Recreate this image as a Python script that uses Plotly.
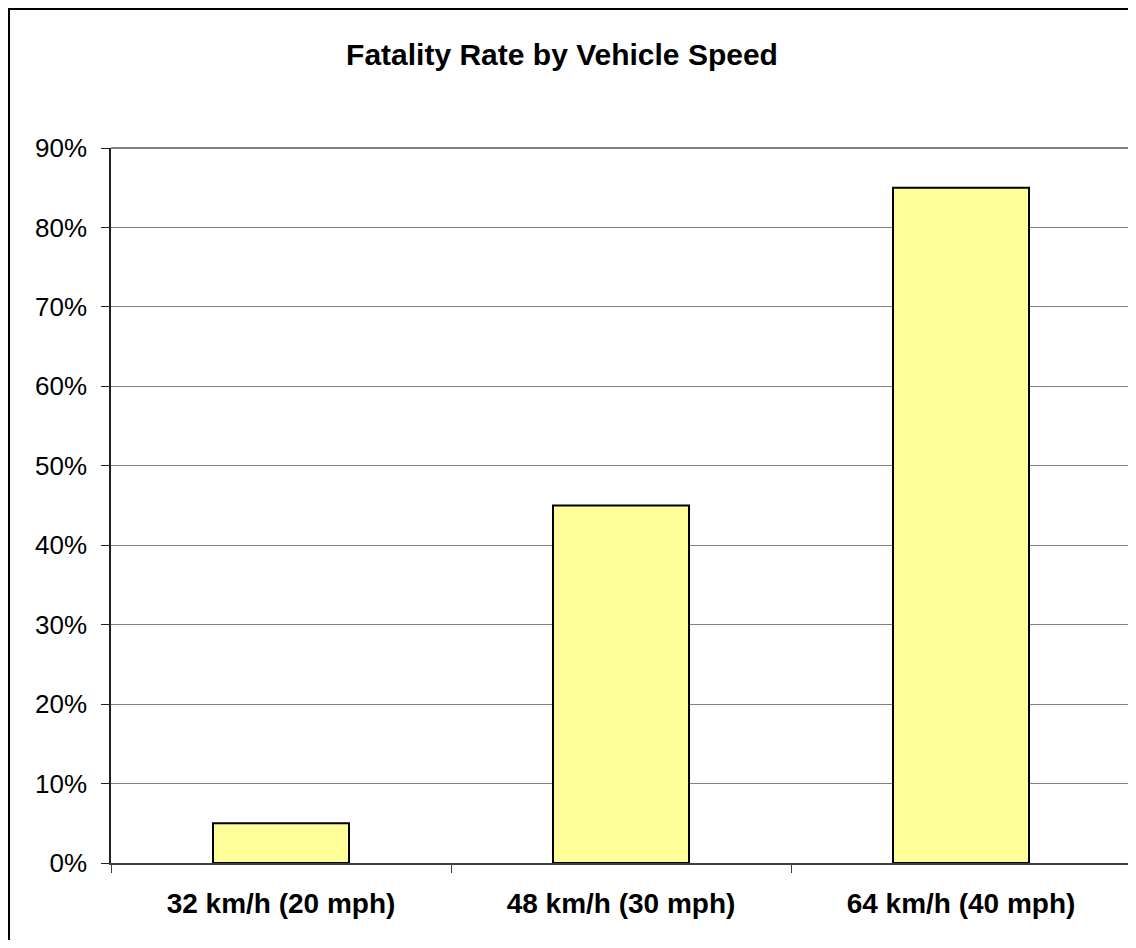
import plotly.graph_objects as go

categories = ["32 km/h (20 mph)", "48 km/h (30 mph)", "64 km/h (40 mph)"]
fatality_rate = [5, 45, 85]
y_ticks = [0, 10, 20, 30, 40, 50, 60, 70, 80, 90]
y_tick_labels = [f"{v}%" for v in y_ticks]

# page has an 8px body margin, so the figure origin sits at (8, 8)
W, H = 1128, 932
L, R, T, B = 103, 5, 140, 77
pw, ph = W - L - R, H - T - B

def px_x(x):
    return (x - L) / pw

def px_y(y):
    return (H - B - y) / ph

fig = go.Figure(
    go.Bar(
        x=categories,
        y=fatality_rate,
        width=0.4,
        marker=dict(color="#FFFF99", line=dict(color="#000000", width=2)),
        hoverinfo="x+y",
    )
)

fig.update_layout(
    width=W,
    height=H,
    margin=dict(l=L, r=R, t=T, b=B, pad=0),
    paper_bgcolor="white",
    plot_bgcolor="white",
    showlegend=False,
    title=dict(
        text="<b>Fatality Rate by Vehicle Speed</b>",
        x=(562 - 8) / W,
        xanchor="center",
        y=1 - 46 / H,
        yanchor="middle",
        font=dict(family="Liberation Sans, Arial", size=30, color="black"),
    ),
    font=dict(family="Liberation Sans, Arial", color="black"),
    bargap=0.6,
)

fig.update_xaxes(
    type="category",
    tickson="boundaries",
    ticks="outside",
    ticklen=8,
    tickcolor="#404040",
    showline=True,
    linecolor="#404040",
    linewidth=2,
    showgrid=False,
    tickfont=dict(family="Liberation Sans, Arial", size=28, color="black"),
    tickprefix="<b>",
    ticksuffix="</b>",
    ticklabelstandoff=14,
)

fig.update_yaxes(
    range=[0, 90],
    tickvals=y_ticks,
    ticktext=y_tick_labels,
    ticks="outside",
    ticklen=8,
    tickcolor="#202020",
    showline=True,
    linecolor="#202020",
    linewidth=1.5,
    showgrid=True,
    gridcolor="#808080",
    gridwidth=1,
    zeroline=False,
    tickfont=dict(family="Liberation Sans, Arial", size=26, color="black"),
    ticklabelstandoff=9,
)

# gray plot-area border (top and right)
fig.add_shape(type="line", xref="paper", yref="paper", x0=0, x1=1, y0=1, y1=1,
              line=dict(color="#808080", width=2))
fig.add_shape(type="line", xref="paper", yref="paper", x0=1, x1=1, y0=0, y1=1,
              line=dict(color="#808080", width=2))

# outer chart border
fig.add_shape(type="rect", xref="paper", yref="paper",
              x0=px_x(1), x1=px_x(W + 20), y0=px_y(H + 20), y1=px_y(1),
              line=dict(color="black", width=2), fillcolor="rgba(0,0,0,0)", layer="above")

fig.write_html("out.html")
